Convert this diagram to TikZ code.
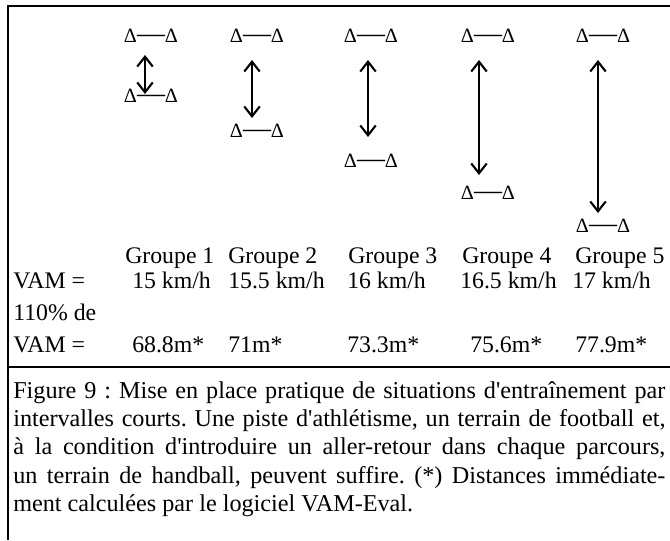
\documentclass[tikz,border=0pt]{standalone}
\usepackage{fontspec}
\setmainfont{Liberation Serif}[Ligatures=TeXOff]
\usetikzlibrary{arrows.meta}
\frenchspacing
\newcommand{\plots}{{\fontsize{14.4}{15}\selectfont Δ}{\fontsize{19.9}{20}\selectfont —}{\fontsize{14.4}{15}\selectfont Δ}}

\begin{document}
\begin{tikzpicture}[x=0.025cm,y=-0.025cm,
  txt/.style={font=\fontsize{16.9}{18.5}\selectfont, inner sep=0pt, anchor=base west},
  paire/.style={inner sep=0pt},
  allerretour/.style={<->, >={Straight Barb[length=7pt,width=11pt]}, line width=1.5pt}]
\useasboundingbox (0,0) rectangle (670,540);
\draw[line width=1.3pt] (7,6) -- (670,6);
\draw[line width=1.3pt] (8,6) -- (8,540);
\draw[line width=1.1pt] (7,367) -- (670,367);
\foreach \n/\x/\yb/\xa/\ya/\yt in {1/151/96/145/55/94,2/257/131/252/60/118,3/371/161/368/60/137,4/488/193/479/60/175,5/603/226/598/60/213} {
  \node[paire] (haut\n) at (\x,36) {\plots};
  \node[paire] (bas\n) at (\x,\yb) {\plots};
  \coordinate (dep\n) at (\xa,\ya);
  \coordinate (arr\n) at (\xa,\yt);
  \draw[allerretour] (dep\n) -- (arr\n);
}
\foreach \n/\x in {1/125,2/228,3/348,4/462,5/575}
  \node[txt] (groupe\n) at (\x,263) {Groupe \n};
\node[txt] (vam) at (13,288) {VAM =};
\foreach \n/\x/\v in {1/132/15,2/228/15.5,3/347/16,4/460/16.5,5/572/17}
  \node[txt] (vitesse\n) at (\x,288) {\v{} km/h};
\node[txt] (pourcent) at (13,320) {110\% de};
\node[txt] (vamb) at (13,352) {VAM =};
\foreach \n/\x/\d in {1/132/68.8,2/228/71,3/347/73.3,4/470/75.6,5/575/77.9}
  \node[txt] (dist\n) at (\x,352) {\d m*};
\node[txt, font=\fontsize{17.2}{20.2}\selectfont, anchor=north west, text width=16.3cm, align=justify] (legende) at (13,381)
  {Figure 9 : Mise en place pratique de situations d'entraînement par\linebreak
   intervalles courts. Une piste d'athlétisme, un terrain de football et,\linebreak
   à la condition d'introduire un aller-retour dans chaque parcours,\linebreak
   un terrain de handball, peuvent suffire. (*) Distances immédiate-\linebreak
   ment calculées par le logiciel VAM-Eval.};
\end{tikzpicture}
\end{document}
